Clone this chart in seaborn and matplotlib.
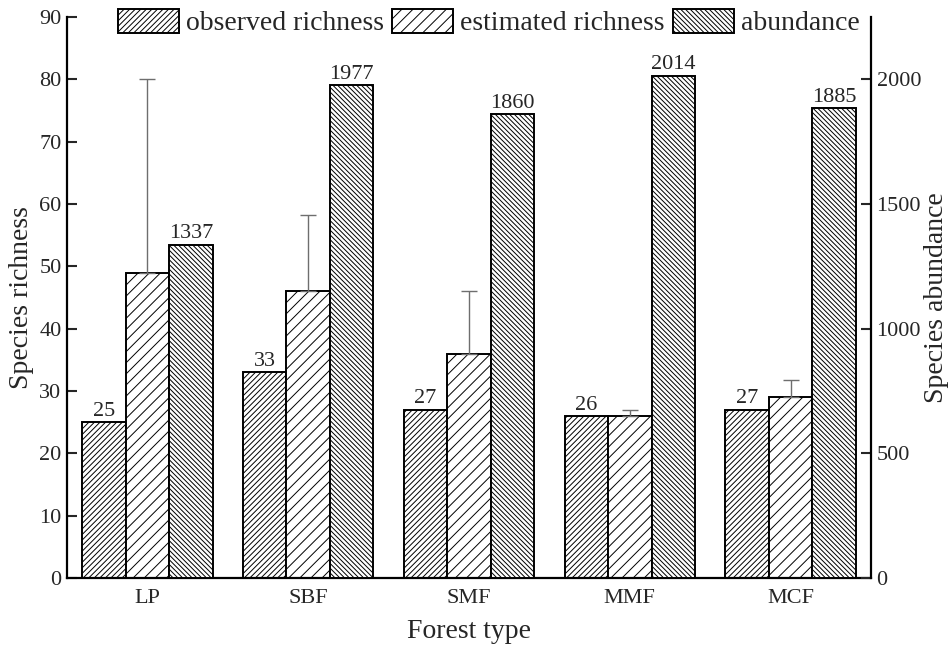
import numpy as np
import pandas as pd
import matplotlib
matplotlib.use("Agg")
import matplotlib.pyplot as plt
import matplotlib.patches as mpatches
import seaborn as sns

forest_types = ["LP", "SBF", "SMF", "MMF", "MCF"]
observed_richness = [25, 33, 27, 26, 27]
estimated_richness = [49, 46, 36, 26, 29]
estimated_upper = [80, 58.3, 46, 27, 31.7]
abundance = [1337, 1977, 1860, 2014, 1885]

series_names = ["observed richness", "estimated richness", "abundance"]
hatches = {"observed richness": "/" * 6, "estimated richness": "///", "abundance": "\\" * 7}

sns.set_style("ticks")
plt.rcParams["font.family"] = ["Liberation Serif", "DejaVu Serif"]
plt.rcParams["hatch.linewidth"] = 0.7
plt.rcParams["hatch.color"] = "black"

rich_df = pd.DataFrame({
    "forest": forest_types * 2,
    "value": observed_richness + estimated_richness,
    "series": ["observed richness"] * 5 + ["estimated richness"] * 5,
})
abund_df = pd.DataFrame({
    "forest": forest_types,
    "value": abundance,
    "series": ["abundance"] * 5,
})

fig = plt.figure(figsize=(9.48, 6.52), dpi=100)
ax = fig.add_axes([67 / 948, 1 - 578 / 652, (871 - 67) / 948, (578 - 17) / 652])
ax2 = ax.twinx()

pal = {s: "white" for s in series_names}
sns.barplot(data=rich_df, x="forest", y="value", hue="series", hue_order=series_names,
            order=forest_types, palette=pal, saturation=1, edgecolor="black",
            linewidth=1.4, errorbar=None, legend=False, width=0.81, dodge=True, ax=ax)
sns.barplot(data=abund_df, x="forest", y="value", hue="series", hue_order=series_names,
            order=forest_types, palette=pal, saturation=1, edgecolor="black",
            linewidth=1.4, errorbar=None, legend=False, width=0.81, dodge=True, ax=ax2)


def bars_of(a):
    rects = [p for p in a.patches
             if isinstance(p, mpatches.Rectangle) and p.get_height() > 0]
    return sorted(rects, key=lambda p: p.get_x())


rich_bars = bars_of(ax)
obs_bars = rich_bars[0::2]
est_bars = rich_bars[1::2]
ab_bars = bars_of(ax2)

for p in obs_bars:
    p.set_hatch(hatches["observed richness"])
for p in est_bars:
    p.set_hatch(hatches["estimated richness"])
for p in ab_bars:
    p.set_hatch(hatches["abundance"])

# error bars on estimated richness (upper only)
xs = [p.get_x() + p.get_width() / 2 for p in est_bars]
err_up = [u - e for u, e in zip(estimated_upper, estimated_richness)]
ax.errorbar(xs, estimated_richness, yerr=[[0] * 5, err_up], fmt="none",
            ecolor="#6e6e6e", elinewidth=1.0, capsize=6, capthick=1.0, zorder=1)

for p, v in zip(obs_bars, observed_richness):
    ax.annotate(str(v), (p.get_x() + p.get_width() / 2, p.get_height()),
                xytext=(0, 1), textcoords="offset points", ha="center", va="bottom",
                fontsize=16)
for p, v in zip(ab_bars, abundance):
    ax2.annotate(str(v), (p.get_x() + p.get_width() / 2, p.get_height()),
                 xytext=(0, 1), textcoords="offset points", ha="center", va="bottom",
                 fontsize=16)

ax.set_xlim(-0.5, 4.5)
ax.set_ylim(0, 90)
ax2.set_ylim(0, 2250)
ax.set_yticks(np.arange(0, 91, 10))
ax2.set_yticks([0, 500, 1000, 1500, 2000])

ax.set_xlabel("Forest type", fontsize=20, labelpad=8)
ax.set_ylabel("Species richness", fontsize=20, labelpad=4)
ax2.set_ylabel("Species abundance", fontsize=20, labelpad=2)

ax.tick_params(axis="y", direction="in", length=7, width=1.5, labelsize=16, pad=4)
ax2.tick_params(axis="y", direction="in", length=7, width=1.5, labelsize=16, pad=4)
ax.tick_params(axis="x", length=0, labelsize=16, pad=8)

for a in (ax, ax2):
    a.spines["top"].set_visible(False)
    for s in ("left", "right", "bottom"):
        a.spines[s].set_linewidth(1.6)
        a.spines[s].set_color("black")
ax2.spines["left"].set_visible(False)
ax2.spines["bottom"].set_visible(False)
ax.spines["right"].set_visible(False)

handles = [mpatches.Patch(facecolor="white", edgecolor="black", linewidth=1.4,
                          hatch=hatches[s], label=s) for s in series_names]
fig.legend(handles=handles, loc="center", bbox_to_anchor=(489 / 948, 1 - 22.5 / 652),
           ncol=3, frameon=False, fontsize=20, handlelength=2.2, handleheight=0.95,
           handletextpad=0.25, columnspacing=0.3, borderpad=0, borderaxespad=0)

fig.savefig("out.png", dpi=100)
